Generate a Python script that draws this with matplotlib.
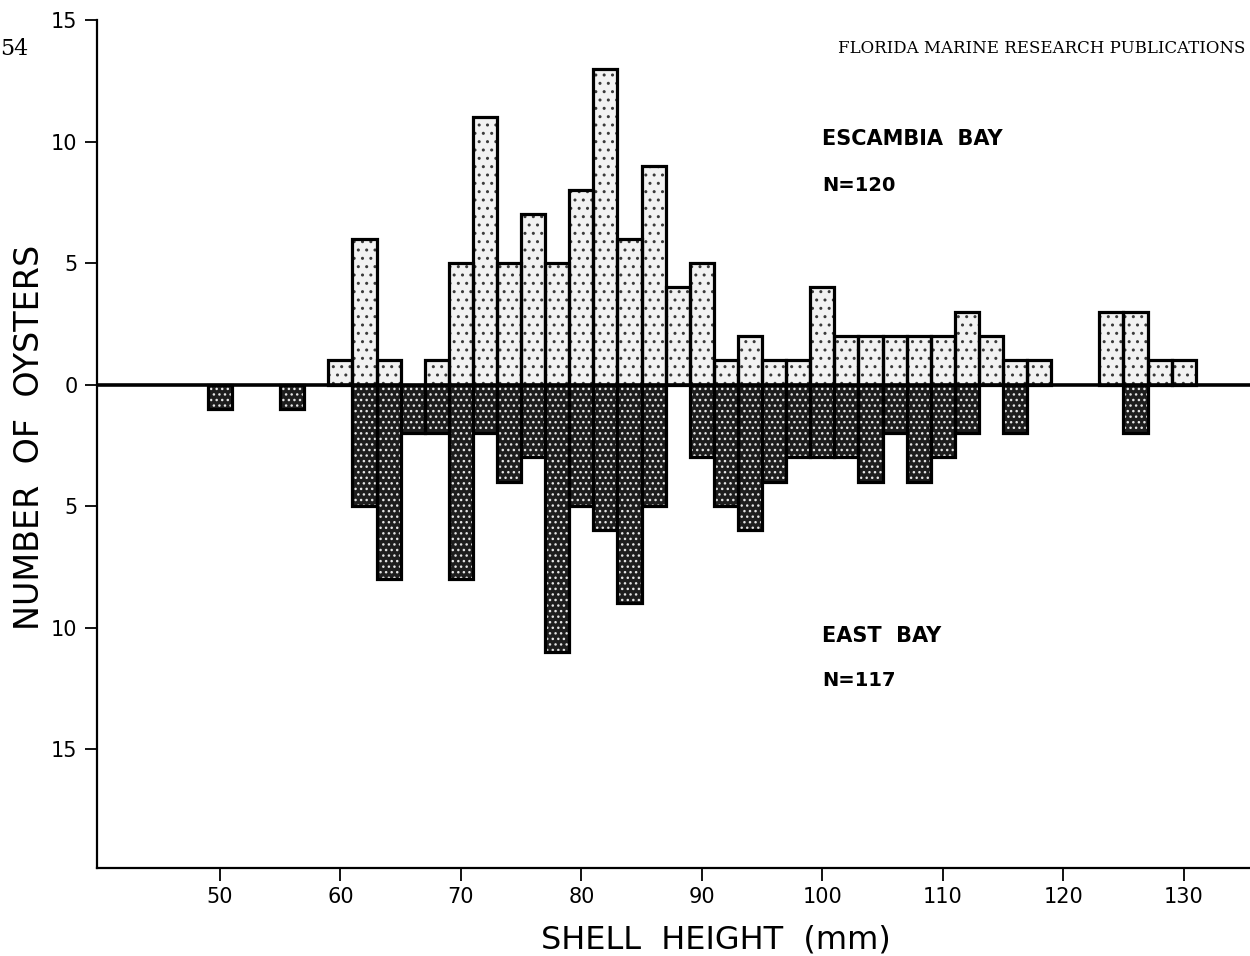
"""
Shell height frequencies of oysters, Escambia Bay (up) vs East Bay (down).
"""

import numpy as np
import matplotlib
matplotlib.use("Agg")
import matplotlib.pyplot as plt

# 2 mm shell height classes (class midpoints, mm) and counts
escambia_mid = [60, 62, 64, 68, 70, 72, 74, 76, 78, 80, 82, 84, 86, 88, 90,
                92, 94, 96, 98, 100, 102, 104, 106, 108, 110, 112, 114, 116,
                118, 124, 126, 128, 130]
escambia_n = [1, 6, 1, 1, 5, 11, 5, 7, 5, 8, 13, 6, 9, 4, 5,
              1, 2, 1, 1, 4, 2, 2, 2, 2, 2, 3, 2, 1,
              1, 3, 3, 1, 1]

east_mid = [50, 56, 62, 64, 66, 68, 70, 72, 74, 76, 78, 80, 82, 84, 86,
            90, 92, 94, 96, 98, 100, 102, 104, 106, 108, 110, 112, 116, 126]
east_n = [1, 1, 5, 8, 2, 2, 8, 2, 4, 3, 11, 5, 6, 9, 5,
          3, 5, 6, 4, 3, 3, 3, 4, 2, 4, 3, 2, 2, 2]

x_ticks = [50, 60, 70, 80, 90, 100, 110, 120, 130]
x_ticklabels = ["50", "60", "70", "80", "90", "100", "110", "120", "130"]
y_ticks = [-15, -10, -5, 0, 5, 10, 15]
y_ticklabels = ["15", "10", "5", "0", "5", "10", "15"]

plt.rcParams["font.family"] = "DejaVu Sans"
plt.rcParams["hatch.linewidth"] = 1.0

fig = plt.figure(figsize=(12.5, 9.56), dpi=100)
ax = fig.add_axes([0.0776, 0.092, 1 - 0.0776, 0.979 - 0.092])

up = np.array(escambia_n)
down = -np.array(east_n)

# stippled fills first, then heavy outlines on top
ax.bar(escambia_mid, up, width=2, facecolor="#f2f2f2", edgecolor="#3a3a3a",
       hatch="..", linewidth=0, zorder=2)
ax.bar(east_mid, down, width=2, facecolor="#1e1e1e", edgecolor="#e6e6e6",
       hatch="...", linewidth=0, zorder=2)
ax.bar(escambia_mid, up, width=2, fill=False, edgecolor="black",
       linewidth=2.3, zorder=3)
ax.bar(east_mid, down, width=2, fill=False, edgecolor="black",
       linewidth=2.3, zorder=3)

ax.axhline(0, color="black", linewidth=2.6, zorder=4)

ax.set_xlim(39.8, 135.5)
ax.set_ylim(-19.9, 15)
ax.set_xticks(x_ticks)
ax.set_xticklabels(x_ticklabels, fontsize=15)
ax.set_yticks(y_ticks)
ax.set_yticklabels(y_ticklabels, fontsize=15)
ax.tick_params(direction="out", length=9, width=1.3, pad=5)

for side in ("top", "right"):
    ax.spines[side].set_visible(False)
for side in ("left", "bottom"):
    ax.spines[side].set_linewidth(1.6)

# panel labels
ax.text(100.0, 10.1, "ESCAMBIA  BAY", fontsize=15, fontweight="bold",
        va="center")
ax.text(100.0, 8.2, "N=120", fontsize=14, fontweight="bold", va="center")
ax.text(100.0, -10.35, "EAST  BAY", fontsize=15, fontweight="bold",
        va="center")
ax.text(100.0, -12.2, "N=117", fontsize=14, fontweight="bold", va="center")

fig.text(0.024, 0.543, "NUMBER  OF  OYSTERS", rotation=90, fontsize=24,
         ha="center", va="center")
fig.text(0.573, 0.0167, "SHELL  HEIGHT  (mm)", fontsize=23,
         ha="center", va="center")

# page header
fig.text(0.0, 0.949, "54", fontsize=16, family="DejaVu Serif", va="center")
fig.text(0.670, 0.949, "FLORIDA MARINE RESEARCH PUBLICATIONS", fontsize=12,
         family="DejaVu Serif", va="center")

fig.savefig("out.png", dpi=100)
